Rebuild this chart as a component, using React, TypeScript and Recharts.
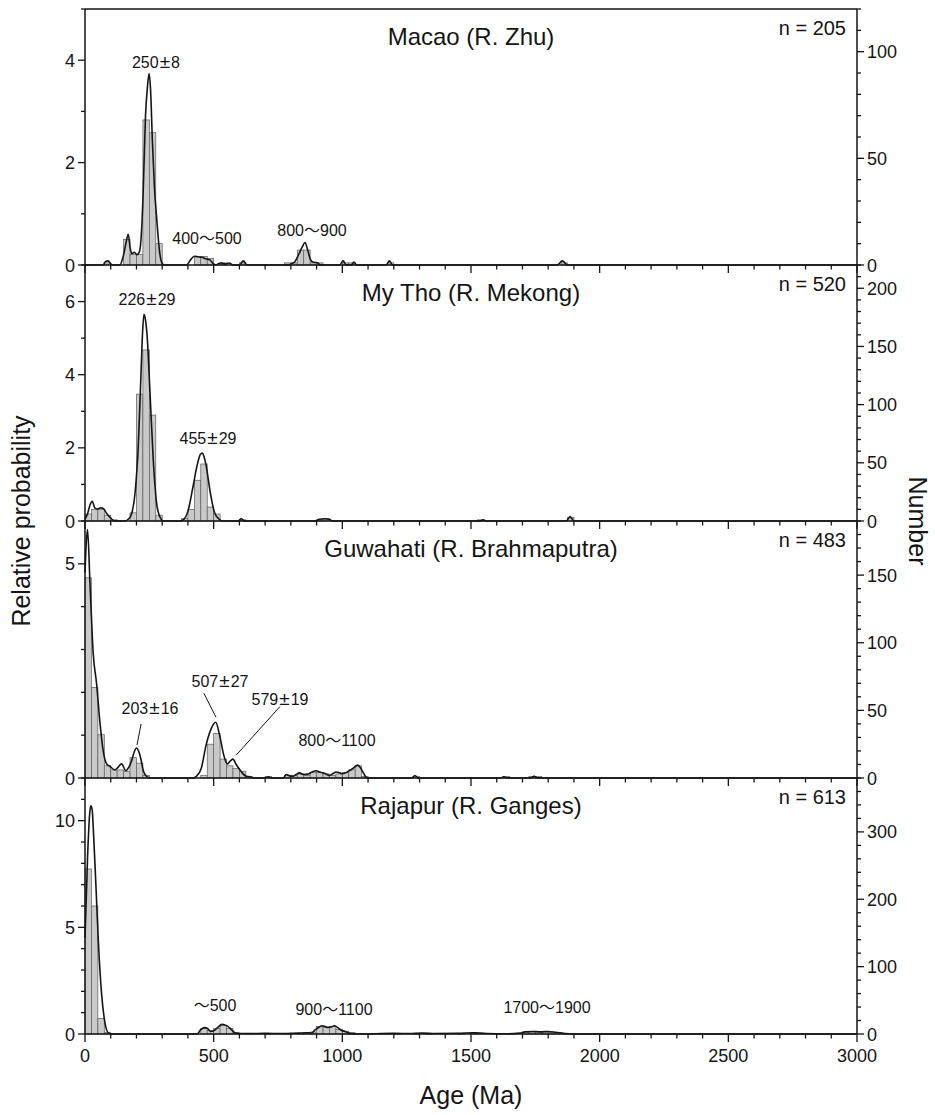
import React from "react";
import { Bar, ComposedChart, Line, ReferenceLine, XAxis, YAxis } from "recharts";

type Pair = [number, number];

const FONT = '"Liberation Sans", Arial, Helvetica, sans-serif';
const INK = "#151515";

const PLOT_LEFT = 85;
const PLOT_RIGHT = 857;
const AGE_MAX = 3000;
const BIN = 25;
const binPx = (BIN * (PLOT_RIGHT - PLOT_LEFT)) / AGE_MAX;

const ageTicks = Array.from({ length: 31 }, (_, i) => i * 100);
const ageLabels = [0, 500, 1000, 1500, 2000, 2500, 3000];

// histogram bins: [bin start (Ma), number of grains], 25 Ma wide
const macaoBins: Pair[] = [
  [75, 1], [150, 12], [175, 5], [200, 5], [225, 68], [250, 62], [275, 10],
  [425, 4], [450, 4], [475, 3], [525, 1], [600, 1], [775, 1], [800, 1],
  [825, 7], [850, 7], [875, 1], [900, 1], [1000, 1], [1025, 1], [1175, 1], [1850, 1],
];
// probability density curve: [age (Ma), relative probability]
const macaoKde: Pair[] = [
  [0, 0], [70, 0], [80, 0.07], [90, 0.08], [100, 0.02], [110, 0], [135, 0], [150, 0.2],
  [160, 0.45], [168, 0.6], [175, 0.35], [182, 0.22], [192, 0.25], [202, 0.2], [212, 0.27],
  [219, 0.6], [226, 1.4], [235, 2.9], [243, 3.5], [249, 3.74], [255, 3.4], [262, 2.4],
  [270, 1.5], [278, 0.95], [290, 0.25], [300, 0.03], [310, 0], [395, 0], [410, 0.1],
  [425, 0.17], [440, 0.16], [455, 0.15], [470, 0.12], [485, 0.1], [500, 0.02], [510, 0],
  [520, 0.03], [530, 0.04], [545, 0.02], [560, 0.04], [575, 0], [600, 0], [615, 0.08],
  [630, 0], [790, 0], [800, 0.02], [815, 0.06], [830, 0.2], [845, 0.36], [855, 0.44],
  [865, 0.3], [875, 0.12], [885, 0.06], [895, 0.05], [905, 0.04], [915, 0], [990, 0],
  [1003, 0.08], [1015, 0], [1035, 0], [1045, 0.06], [1055, 0], [1170, 0], [1183, 0.08],
  [1195, 0], [1835, 0], [1855, 0.08], [1875, 0], [3000, 0],
];

const mekongBins: Pair[] = [
  [0, 6], [25, 10], [50, 10], [75, 5], [100, 1], [175, 7], [200, 109], [225, 147],
  [250, 91], [275, 5], [375, 2], [400, 10], [425, 35], [450, 49], [475, 12], [500, 6],
  [600, 1], [900, 1], [925, 2], [1525, 1], [1875, 3],
];
const mekongKde: Pair[] = [
  [0, 0.05], [10, 0.2], [20, 0.45], [28, 0.54], [38, 0.36], [50, 0.33], [60, 0.36],
  [70, 0.35], [85, 0.2], [100, 0.08], [115, 0], [155, 0], [170, 0.06], [182, 0.22],
  [195, 0.8], [207, 2.05], [217, 3.9], [224, 5.2], [229, 5.65], [235, 5.5], [242, 5.0],
  [252, 3.6], [265, 1.7], [278, 0.5], [290, 0.13], [305, 0], [370, 0], [385, 0.05],
  [400, 0.27], [420, 0.95], [435, 1.5], [448, 1.82], [456, 1.86], [463, 1.75], [471, 1.5],
  [487, 0.77], [504, 0.22], [523, 0.04], [535, 0], [595, 0], [607, 0.06], [620, 0],
  [895, 0], [910, 0.05], [930, 0.06], [950, 0.05], [960, 0], [1535, 0], [1547, 0.03],
  [1560, 0], [1870, 0], [1885, 0.12], [1900, 0], [3000, 0],
];

const brahmaputraBins: Pair[] = [
  [0, 148], [25, 67], [50, 32], [75, 9], [100, 6], [125, 6], [150, 5], [175, 15],
  [200, 11], [225, 2], [450, 2], [475, 25], [500, 33], [525, 14], [550, 9], [575, 7],
  [600, 5], [625, 1], [700, 1], [775, 2], [800, 2], [825, 3], [850, 2], [875, 4],
  [900, 4], [925, 3], [950, 2], [975, 3], [1000, 4], [1025, 6], [1050, 9], [1075, 1],
  [1275, 1], [1625, 1], [1725, 1], [1750, 1],
];
const brahmaputraKde: Pair[] = [
  [0, 4.8], [5, 5.5], [10, 5.8], [19, 4.6], [32, 2.9], [45, 2.2], [58, 1.3], [71, 0.62],
  [84, 0.33], [97, 0.27], [116, 0.19], [130, 0.26], [142, 0.33], [159, 0.17], [170, 0.25],
  [181, 0.4], [192, 0.62], [200, 0.7], [210, 0.6], [218, 0.42], [226, 0.18], [239, 0.04],
  [252, 0], [420, 0], [433, 0.04], [452, 0.23], [471, 0.78], [491, 1.16], [508, 1.3],
  [523, 1.0], [539, 0.54], [553, 0.33], [565, 0.4], [575, 0.44], [588, 0.31], [607, 0.15],
  [627, 0.04], [640, 0.03], [655, 0], [700, 0], [712, 0.03], [725, 0], [770, 0],
  [782, 0.08], [795, 0.05], [808, 0.04], [820, 0.08], [833, 0.12], [850, 0.08],
  [866, 0.09], [882, 0.14], [898, 0.17], [912, 0.14], [924, 0.12], [938, 0.09],
  [950, 0.06], [963, 0.1], [976, 0.14], [990, 0.12], [1001, 0.1], [1015, 0.13],
  [1027, 0.17], [1045, 0.24], [1059, 0.3], [1069, 0.25], [1079, 0.15], [1092, 0.02],
  [1100, 0], [1270, 0], [1282, 0.06], [1295, 0], [1615, 0], [1628, 0.03], [1642, 0],
  [1730, 0], [1745, 0.04], [1760, 0], [3000, 0],
];

const gangesBins: Pair[] = [
  [0, 245], [25, 190], [50, 23], [75, 2], [450, 8], [475, 5], [500, 8], [525, 13],
  [550, 8], [575, 2], [625, 1], [700, 1], [775, 1], [825, 1], [850, 2], [875, 3],
  [900, 11], [925, 10], [950, 11], [975, 7], [1000, 4], [1025, 2], [1200, 1], [1275, 1],
  [1325, 1], [1450, 1], [1500, 2], [1700, 3], [1725, 3], [1750, 3], [1775, 3],
  [1800, 2], [1825, 2], [1850, 1],
];
const gangesKde: Pair[] = [
  [0, 4.5], [10, 8.3], [18, 10.3], [23, 10.7], [28, 10.5], [32, 9.7], [43, 6.8],
  [52, 4.3], [65, 1.8], [78, 0.5], [91, 0.05], [104, 0], [435, 0], [450, 0.2],
  [465, 0.3], [477, 0.25], [488, 0.12], [500, 0.15], [515, 0.3], [532, 0.45], [552, 0.38],
  [568, 0.22], [585, 0.04], [600, 0.02], [640, 0.02], [700, 0.03], [760, 0.02],
  [800, 0.03], [830, 0.04], [860, 0.06], [880, 0.05], [895, 0.2], [903, 0.27],
  [922, 0.39], [942, 0.31], [956, 0.33], [970, 0.39], [985, 0.27], [994, 0.19],
  [1013, 0.11], [1032, 0.02], [1060, 0], [1200, 0.03], [1260, 0.02], [1310, 0.04],
  [1360, 0.02], [1450, 0.03], [1510, 0.06], [1560, 0.02], [1640, 0.01], [1690, 0.04],
  [1710, 0.1], [1740, 0.12], [1770, 0.1], [1800, 0.12], [1830, 0.08], [1860, 0.03],
  [1890, 0], [3000, 0],
];

type PanelDef = {
  title: string;
  n: number;
  bins: Pair[];
  kde: Pair[];
  top: number;
  bottom: number;
  probMax: number;
  probTicks: number[];
  probLabels: number[];
  numMax: number;
  numTicks: number[];
  numLabels: number[];
  leaders?: { x1: number; y1: number; x2: number; y2: number }[];
};

const steps = (max: number, step: number) =>
  Array.from({ length: Math.floor(max / step) + 1 }, (_, i) => i * step);

const panels: PanelDef[] = [
  {
    title: "Macao (R. Zhu)", n: 205, bins: macaoBins, kde: macaoKde, top: 9, bottom: 265,
    probMax: 5, probTicks: steps(5, 1), probLabels: [0, 2, 4],
    numMax: 120, numTicks: steps(120, 10), numLabels: [0, 50, 100],
  },
  {
    title: "My Tho (R. Mekong)", n: 520, bins: mekongBins, kde: mekongKde, top: 265, bottom: 521,
    probMax: 7, probTicks: steps(7, 1), probLabels: [0, 2, 4, 6],
    numMax: 220, numTicks: steps(220, 10), numLabels: [0, 50, 100, 150, 200],
  },
  {
    title: "Guwahati (R. Brahmaputra)", n: 483, bins: brahmaputraBins, kde: brahmaputraKde,
    top: 521, bottom: 778,
    probMax: 6, probTicks: steps(6, 1), probLabels: [0, 5],
    numMax: 190, numTicks: steps(190, 10), numLabels: [0, 50, 100, 150],
    leaders: [
      { x1: 218, y1: 1.26, x2: 202, y2: 0.77 },
      { x1: 462, y1: 1.98, x2: 509, y2: 1.42 },
      { x1: 758, y1: 1.67, x2: 587, y2: 0.53 },
    ],
  },
  {
    title: "Rajapur (R. Ganges)", n: 613, bins: gangesBins, kde: gangesKde, top: 778, bottom: 1034,
    probMax: 12, probTicks: steps(12, 1), probLabels: [0, 5, 10],
    numMax: 380, numTicks: steps(380, 20), numLabels: [0, 100, 200, 300],
  },
];

const peakNotes = [
  { text: "250±8", x: 156, y: 68 },
  { text: "400～500", x: 207, y: 244 },
  { text: "800～900", x: 312, y: 236 },
  { text: "226±29", x: 147, y: 305 },
  { text: "455±29", x: 208, y: 444 },
  { text: "203±16", x: 150, y: 714 },
  { text: "507±27", x: 220, y: 687 },
  { text: "579±19", x: 280, y: 705 },
  { text: "800～1100", x: 337, y: 746 },
  { text: "～500", x: 215, y: 1011 },
  { text: "900～1100", x: 334, y: 1015 },
  { text: "1700～1900", x: 547, y: 1013 },
];

function buildRows(bins: Pair[], kde: Pair[]) {
  const rows: { age: number; count?: number; prob?: number }[] = [];
  bins.forEach(([start, count]) => rows.push({ age: start + BIN / 2, count }));
  kde.forEach(([age, prob]) => rows.push({ age, prob }));
  return rows.sort((a, b) => a.age - b.age);
}

function BinRect(props: any) {
  const { x, y, width, height } = props;
  if (!height || !isFinite(x)) return <g />;
  const cx = x + width / 2;
  return (
    <rect x={cx - binPx / 2} y={y} width={binPx} height={height}
      fill="#c9c9c9" stroke="#5e5e5e" strokeWidth={0.7} />
  );
}

function AgeTick({ x, y, payload, showLabel }: any) {
  const major = payload.value % 500 === 0;
  return (
    <g>
      <line x1={x} x2={x} y1={y} y2={y + (major ? 8 : 4.5)} stroke={INK} strokeWidth={1.3} />
      {showLabel && ageLabels.includes(payload.value) && (
        <text x={x} y={y + 28} textAnchor="middle" fontSize={18} fontFamily={FONT} fill={INK}>
          {payload.value}
        </text>
      )}
    </g>
  );
}

function SideTick({ x, y, payload, labels, side }: any) {
  const major = labels.includes(payload.value);
  const dir = side === "left" ? -1 : 1;
  return (
    <g>
      <line x1={x} x2={x + dir * (major ? 7 : 4)} y1={y} y2={y} stroke={INK} strokeWidth={1.3} />
      {major && (
        <text x={x + dir * 10} y={y + 6.5} textAnchor={side === "left" ? "end" : "start"}
          fontSize={18} fontFamily={FONT} fill={INK}>
          {payload.value}
        </text>
      )}
    </g>
  );
}

function Panel({ p, last, first }: { p: PanelDef; last: boolean; first: boolean }) {
  const h = p.bottom - p.top;
  const rows = buildRows(p.bins, p.kde);
  const axisLine = { stroke: INK, strokeWidth: 1.5 };
  return (
    <div style={{ position: "absolute", left: 0, top: p.top - 10 }}>
      <ComposedChart width={935} height={h + 50} data={rows}
        margin={{ top: 10, right: 38, bottom: 10, left: 45 }}>
        <XAxis dataKey="age" type="number" domain={[0, AGE_MAX]} ticks={ageTicks} interval={0}
          height={30} tickSize={0} tickMargin={0} tickLine={false} axisLine={axisLine}
          tick={(props: any) => <AgeTick {...props} showLabel={last} />} />
        <YAxis yAxisId="left" orientation="left" type="number" domain={[0, p.probMax]}
          ticks={p.probTicks} interval={0} width={40} tickSize={0} tickMargin={0}
          tickLine={false} axisLine={axisLine}
          tick={(props: any) => <SideTick {...props} labels={p.probLabels} side="left" />} />
        <YAxis yAxisId="right" orientation="right" type="number" domain={[0, p.numMax]}
          ticks={p.numTicks} interval={0} width={40} tickSize={0} tickMargin={0}
          tickLine={false} axisLine={axisLine}
          tick={(props: any) => <SideTick {...props} labels={p.numLabels} side="right" />} />
        {first && <ReferenceLine yAxisId="left" y={p.probMax} stroke={INK} strokeWidth={1.5} />}
        <Bar yAxisId="right" dataKey="count" barSize={binPx} isAnimationActive={false}
          shape={(props: any) => <BinRect {...props} />} />
        <Line yAxisId="left" dataKey="prob" type="monotone" stroke={INK} strokeWidth={1.6}
          dot={false} activeDot={false} connectNulls isAnimationActive={false} />
        {(p.leaders || []).map((l, i) => (
          <ReferenceLine key={i} yAxisId="left" stroke={INK} strokeWidth={1}
            segment={[{ x: l.x1, y: l.y1 }, { x: l.x2, y: l.y2 }]} />
        ))}
      </ComposedChart>
    </div>
  );
}

function Note({ text, x, y }: { text: string; x: number; y: number }) {
  const parts = text.split(/([±～])/).filter((s) => s.length > 0);
  return (
    <text x={x} y={y} textAnchor="middle" fontSize={16} fontFamily={FONT} fill={INK}>
      {parts.map((s, i) =>
        s === "±" ? (
          <tspan key={i} dx={1} fontSize={19}>±</tspan>
        ) : s === "～" ? (
          <tspan key={i} fontFamily='"Noto Sans CJK JP", sans-serif'>～</tspan>
        ) : (
          <tspan key={i} dx={i > 0 && parts[i - 1] === "±" ? 1 : 0}>{s}</tspan>
        )
      )}
    </text>
  );
}

export default function App() {
  return (
    <div style={{ position: "absolute", left: 0, top: 0, width: 935, height: 1115, background: "#fff" }}>
      {panels.map((p, i) => (
        <Panel key={p.title} p={p} first={i === 0} last={i === panels.length - 1} />
      ))}
      <svg width={935} height={1115} style={{ position: "absolute", left: 0, top: 0, pointerEvents: "none" }}>
        {panels.map((p) => {
          const base = p.top + 36;
          return (
            <g key={p.title}>
              <text x={471} y={base} textAnchor="middle" fontSize={24} fontFamily={FONT} fill={INK}>
                {p.title}
              </text>
              <text x={846} y={base - 10} textAnchor="end" fontSize={20} fontFamily={FONT} fill={INK}>
                n = {p.n}
              </text>
            </g>
          );
        })}
        {peakNotes.map((n) => (
          <Note key={n.text + n.y} {...n} />
        ))}
        <text transform="translate(30, 521) rotate(-90)" textAnchor="middle" fontSize={25}
          fontFamily={FONT} fill={INK}>
          Relative probability
        </text>
        <text transform="translate(909, 521) rotate(90)" textAnchor="middle" fontSize={25}
          fontFamily={FONT} fill={INK}>
          Number
        </text>
        <text x={471} y={1104} textAnchor="middle" fontSize={25} fontFamily={FONT} fill={INK}>
          Age (Ma)
        </text>
      </svg>
    </div>
  );
}
